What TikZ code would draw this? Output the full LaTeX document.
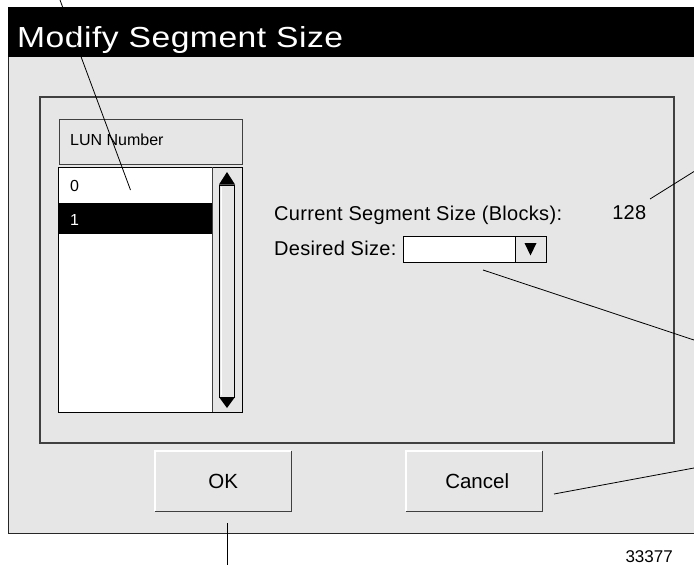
\documentclass[tikz,border=0pt]{standalone}
\usepackage{fontspec}
\setmainfont{Liberation Sans}
\newfontfamily\titlefont[LetterSpace=1.5]{Liberation Sans}
\newfontfamily\uifont[LetterSpace=1.5]{Liberation Sans}
\definecolor{bg}{HTML}{E6E6E6}
\definecolor{edge}{HTML}{404040}
\begin{document}
\begin{tikzpicture}[x=1pt,y=-1pt,
  callout/.style={draw=black, line width=0.8pt},
  lbl/.style={inner sep=0pt, anchor=base west},
  big/.style={font=\uifont\fontsize{20}{20}\selectfont},
  small/.style={font=\fontsize{16}{16}\selectfont},
  btn/.style={fill=bg, minimum width=136pt, minimum height=60pt, inner sep=0pt, anchor=north west, font=\fontsize{20.5}{20.5}\selectfont},
  tri/.style={fill=black}]
\clip (0,0) rectangle (694,565);
\fill[white] (0,0) rectangle (694,565);

% dialog body and title bar
\fill[bg] (8,57) rectangle (700,533);
\draw[line width=1pt, black!85] (8,57) -- (8,533) -- (700,533);
\fill[black] (8,7) rectangle (700,57);
\node[lbl, text=white, font=\titlefont\fontsize{29}{29}\selectfont] (title) at (17,47) {\scalebox{1.16}[1]{Modify Segment Size}};

% inner frame
\draw[line width=1.2pt, edge] (40,97) rectangle (674,443);

% LUN header
\draw[line width=1pt, edge, fill=bg] (59,119) rectangle (242,164);
\node[lbl, small] (lun) at (70,145) {LUN Number};

% list box
\fill[white] (58,167) rectangle (212,412);
\fill[bg] (212,167) rectangle (242,412);
\fill[black] (58,203) rectangle (212,234);
\draw[line width=1pt, black] (58,167) rectangle (242,412);
\draw[line width=0.8pt, edge] (212,167) -- (212,412);
\node[lbl, small] (row0) at (70,191) {0};
\node[lbl, small, text=white] (row1) at (70,225) {1};

% scrollbar
\draw[line width=0.9pt, fill=bg] (219,185) rectangle (234.5,397);
\draw[line width=0.7pt, white] (221,187) -- (221,395);
\fill[tri] (227,172) -- (219,184.5) -- (235,184.5) -- cycle;
\fill[tri] (227,408) -- (219,397) -- (235,397) -- cycle;

% segment size texts
\node[lbl, big] (cur) at (274,220) {Current Segment Size (Blocks):};
\node[lbl, big, anchor=base east] (val) at (646.5,219.5) {128};
\node[lbl, big] (des) at (274,255) {Desired Size:};

% dropdown
\fill[white] (403,236) rectangle (515,262);
\fill[bg] (515,236) rectangle (546,262);
\draw[line width=0.9pt] (403,236) rectangle (546,262);
\draw[line width=0.9pt] (515,236) -- (515,262);
\fill[tri] (524.5,243) -- (536.5,243) -- (530.5,255.5) -- cycle;
\coordinate (dd) at (483,270);

% buttons
\node[btn] (ok) at (155,451) {OK};
\draw[white, line width=1.2pt] (ok.south west) -- (ok.north west) -- (ok.north east);
\draw[edge, line width=1.2pt] (ok.north east) -- (ok.south east) -- (ok.south west);
\node[btn] (cancel) at (406,451) {\hspace{6pt}Cancel};
\draw[white, line width=1.2pt] (cancel.south west) -- (cancel.north west) -- (cancel.north east);
\draw[edge, line width=1.2pt] (cancel.north east) -- (cancel.south east) -- (cancel.south west);

% figure number
\node[lbl, anchor=base east, font=\fontsize{17}{17}\selectfont] (fig) at (673,562) {33377};

% callout lines
\coordinate (c1a) at (60,0);
\coordinate (c1b) at (130.5,190);
\coordinate (c2a) at (694,171.5);
\coordinate (c2b) at (650,199);
\coordinate (c3a) at (694,340);
\coordinate (c4a) at (694,468);
\coordinate (c4b) at (554,494);
\coordinate (c5a) at (227,523);
\coordinate (c5b) at (227,566);
\draw[callout] (c1a) -- (c1b);
\draw[callout] (c2a) -- (c2b);
\draw[callout] (c3a) -- (dd);
\draw[callout] (c4a) -- (c4b);
\draw[callout] (c5b) -- (c5a);
\end{tikzpicture}
\end{document}
